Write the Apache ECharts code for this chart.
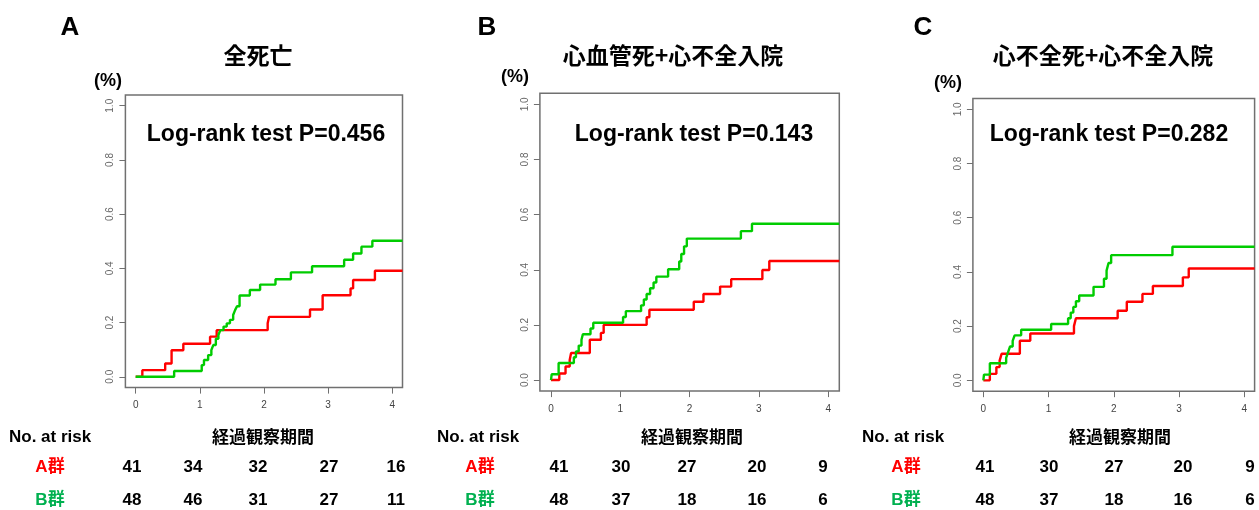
<!DOCTYPE html>
<html>
<head>
<meta charset="utf-8">
<script src="https://cdn.jsdelivr.net/npm/echarts@6/dist/echarts.min.js"></script>
<style>
  html, body { margin: 0; padding: 0; background: #ffffff; }
  #chart { width: 1259px; height: 510px; }
</style>
</head>
<body>
<div id="chart"></div>
<script>
// Cumulative incidence curves: [time (years), cumulative incidence]
const allDeathA = [[0,0],[0.104,0.0244],[0.46,0.049],[0.56,0.098],[0.743,0.122],[1.16,0.148],[1.263,0.172],[2.058,0.197],[2.08,0.221],[2.718,0.248],[2.915,0.301],[3.35,0.326],[3.39,0.357],[3.73,0.391],[4.16,0.391]];
const allDeathB = [[0,0],[0.6,0.021],[1.03,0.043],[1.065,0.062],[1.13,0.08],[1.18,0.098],[1.21,0.117],[1.25,0.14],[1.29,0.154],[1.32,0.172],[1.37,0.185],[1.42,0.197],[1.47,0.21],[1.52,0.228],[1.55,0.246],[1.58,0.26],[1.62,0.3],[1.78,0.32],[1.94,0.34],[2.18,0.36],[2.42,0.385],[2.75,0.408],[3.25,0.432],[3.39,0.455],[3.52,0.48],[3.69,0.502],[4.16,0.502]];

const cvA = [[0,0],[0.12,0.024],[0.21,0.049],[0.27,0.073],[0.29,0.098],[0.56,0.146],[0.72,0.171],[0.76,0.2],[1.38,0.228],[1.42,0.255],[2.06,0.284],[2.2,0.312],[2.44,0.339],[2.6,0.366],[3.05,0.399],[3.15,0.432],[4.16,0.432]];
const cvB = [[0,0],[0.01,0.021],[0.11,0.062],[0.33,0.083],[0.36,0.104],[0.4,0.125],[0.44,0.146],[0.46,0.166],[0.57,0.187],[0.61,0.208],[1.04,0.229],[1.08,0.25],[1.3,0.271],[1.34,0.292],[1.38,0.312],[1.43,0.333],[1.48,0.354],[1.52,0.375],[1.69,0.402],[1.85,0.43],[1.88,0.457],[1.92,0.485],[1.96,0.513],[2.74,0.54],[2.9,0.567],[4.16,0.567]];

const hfA = [[0,0],[0.1,0.024],[0.2,0.049],[0.25,0.073],[0.28,0.098],[0.56,0.146],[0.72,0.173],[1.39,0.2],[1.42,0.229],[2.06,0.257],[2.2,0.29],[2.44,0.319],[2.6,0.348],[3.06,0.38],[3.15,0.413],[4.16,0.413]];
const hfB = [[0,0],[0.01,0.021],[0.1,0.063],[0.35,0.083],[0.38,0.104],[0.41,0.125],[0.45,0.146],[0.48,0.166],[0.58,0.187],[1.04,0.208],[1.3,0.229],[1.34,0.25],[1.38,0.271],[1.42,0.292],[1.47,0.313],[1.69,0.345],[1.85,0.375],[1.89,0.405],[1.92,0.433],[1.96,0.462],[2.9,0.493],[4.16,0.493]];

// Axis ticks
const xTicks = [0, 1, 2, 3, 4];
const yTicks = [0, 0.2, 0.4, 0.6, 0.8, 1.0];

// Panel texts
const panelLetters = ['A', 'B', 'C'];
const panelTitles = ['全死亡', '心血管死+心不全入院', '心不全死+心不全入院'];
const pValues = ['0.456', '0.143', '0.282'];
const groupNames = ['A群', 'B群'];

// Numbers at risk at years 0..4
const riskAllDeathA = [41, 34, 32, 27, 16];
const riskAllDeathB = [48, 46, 31, 27, 11];
const riskCvA = [41, 30, 27, 20, 9];
const riskCvB = [48, 37, 18, 16, 6];
const riskHfA = [41, 30, 27, 20, 9];
const riskHfB = [48, 37, 18, 16, 6];

const RED = '#ff0000';
const GREEN_LINE = '#00cc00';
const GREEN_TEXT = '#00b050';
const SANS = '"Liberation Sans", Arial, sans-serif';
const CJK = '"Noto Sans CJK JP", sans-serif';

// Layout of each panel: plot box and text anchors
const panels = [
  { grid: { left: 125.4, top: 94.9, width: 277.1, height: 292.7 },
    letter: [70, 28], title: [258, 55], pct: [108, 81], logrank: [266, 135],
    riskLeft: 9, riskHead: 263, groupX: 50, cols: [132, 193, 258, 329, 396],
    curves: [allDeathA, allDeathB], risk: [riskAllDeathA, riskAllDeathB] },
  { grid: { left: 539.9, top: 93.3, width: 299.4, height: 297.8 },
    letter: [487, 28], title: [673, 55], pct: [515, 77], logrank: [694, 135],
    riskLeft: 437, riskHead: 692, groupX: 480, cols: [559, 621, 687, 757, 823],
    curves: [cvA, cvB], risk: [riskCvA, riskCvB] },
  { grid: { left: 972.9, top: 98.5, width: 281.7, height: 292.7 },
    letter: [923, 28], title: [1103, 55], pct: [948, 83], logrank: [1109, 135],
    riskLeft: 862, riskHead: 1120, groupX: 906, cols: [985, 1049, 1114, 1183, 1250],
    curves: [hfA, hfB], risk: [riskHfA, riskHfB] }
];

const grids = [], xAxes = [], yAxes = [], series = [], graphics = [];

function txt(text, x, y, font, fill, align) {
  return {
    type: 'text', silent: true,
    style: { text: text, x: x, y: y, font: font, fill: fill || '#000',
      textAlign: align || 'center', textVerticalAlign: 'middle',
      align: align || 'center', verticalAlign: 'middle' }
  };
}

panels.forEach(function (p, i) {
  grids.push(Object.assign({ show: true, borderColor: '#707070', borderWidth: 1.5,
    backgroundColor: 'transparent', containLabel: false }, p.grid));
  xAxes.push({
    type: 'value', gridIndex: i, min: -0.16, max: 4.16, position: 'bottom',
    axisLine: { show: false, onZero: false }, splitLine: { show: false },
    axisTick: { show: true, length: 6, lineStyle: { color: '#707070', width: 1 }, customValues: xTicks },
    axisLabel: { show: true, margin: 13, fontSize: 10, color: '#444', fontFamily: SANS, customValues: xTicks,
      formatter: function (v) { return String(v); } }
  });
  yAxes.push({
    type: 'value', gridIndex: i, min: -0.04, max: 1.04, position: 'left',
    axisLine: { show: false, onZero: false }, splitLine: { show: false },
    axisTick: { show: true, length: 6, lineStyle: { color: '#707070', width: 1 }, customValues: yTicks },
    axisLabel: { show: true, margin: 10, rotate: 90, fontSize: 10, color: '#666', fontFamily: SANS, customValues: yTicks,
      formatter: function (v) { return v.toFixed(1); } }
  });
  [RED, GREEN_LINE].forEach(function (c, k) {
    series.push({
      type: 'line', xAxisIndex: i, yAxisIndex: i, step: 'end',
      data: p.curves[k], showSymbol: false, symbol: 'none', clip: true,
      lineStyle: { color: c, width: 2.4 }, z: 3 + k,
      animation: false
    });
  });

  graphics.push(txt(panelLetters[i], p.letter[0], p.letter[1], 'bold 26px ' + SANS));
  graphics.push(txt(panelTitles[i], p.title[0], p.title[1], 'bold 23px ' + CJK));
  graphics.push(txt('(%)', p.pct[0], p.pct[1], 'bold 18px ' + SANS));
  graphics.push(txt('Log-rank test P=' + pValues[i], p.logrank[0], p.logrank[1], 'bold 23px ' + SANS));
  graphics.push(txt('No. at risk', p.riskLeft, 437, 'bold 17px ' + SANS, '#000', 'left'));
  graphics.push(txt('経過観察期間', p.riskHead, 437, 'bold 17px ' + CJK));
  [467, 500].forEach(function (ry, g) {
    graphics.push(txt(groupNames[g], p.groupX, ry, 'bold 17px ' + SANS + ', ' + CJK, g === 0 ? RED : GREEN_TEXT));
    p.risk[g].forEach(function (n, j) {
      graphics.push(txt(String(n), p.cols[j], ry, 'bold 17px ' + SANS));
    });
  });
});

const chart = echarts.init(document.getElementById('chart'), null, { renderer: 'canvas' });
chart.setOption({
  animation: false,
  backgroundColor: '#ffffff',
  grid: grids,
  xAxis: xAxes,
  yAxis: yAxes,
  series: series,
  graphic: { elements: graphics }
});
</script>
</body>
</html>
